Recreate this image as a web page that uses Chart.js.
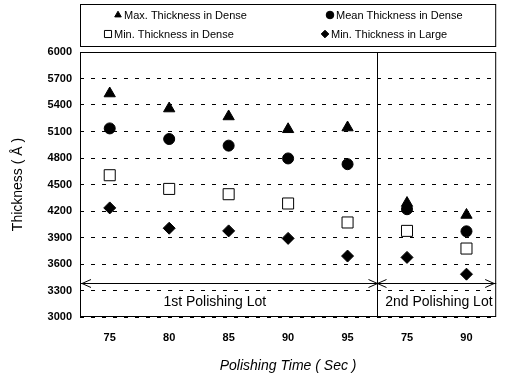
<!DOCTYPE html>
<html>
<head>
<meta charset="utf-8">
<script src="https://cdn.jsdelivr.net/npm/chart.js@4"></script>
<style>
html, body { margin: 0; padding: 0; background: #fff; }
</style>
</head>
<body>
<canvas id="grafico" width="505" height="379"></canvas>
<script>
const tiempos = ['75', '80', '85', '90', '95', '75', '90']
const maxDense = [5530, 5360, 5270, 5125, 5145, 4290, 4155]
const meanDense = [5135, 5015, 4940, 4795, 4730, 4220, 3970]
const minDense = [4605, 4450, 4390, 4285, 4070, 3975, 3775]
const minLarge = [4235, 4005, 3975, 3890, 3690, 3675, 3485]
const lotes = ['1st Polishing Lot', '2nd Polishing Lot']
const inicioLote2 = 5     // index of the first point of the 2nd lot
const nivelFlecha = 3385  // height of the lot arrows

const fuente = "'Liberation Sans', Arial, sans-serif"

// legend box, arrows, lot labels and the frame
const extras = {
	id: 'extras',
	afterDraw(chart) {
		const { ctx, chartArea: { left, right, top, bottom }, scales: { x, y } } = chart
		ctx.save()
		ctx.strokeStyle = '#000'
		ctx.fillStyle = '#000'
		ctx.lineWidth = 1

		ctx.strokeRect(left + 0.5, top + 0.5, right - left - 1, bottom - top - 1)

		const sep = Math.round((x.getPixelForValue(inicioLote2 - 1) + x.getPixelForValue(inicioLote2)) / 2) + 0.5
		const yf = Math.round(y.getPixelForValue(nivelFlecha)) + 0.5

		ctx.beginPath()
		ctx.moveTo(sep, top)
		ctx.lineTo(sep, bottom)
		ctx.moveTo(left, yf)
		ctx.lineTo(right, yf)
		const punta = (xp, dir) => {
			ctx.moveTo(xp + dir * 9, yf - 4)
			ctx.lineTo(xp, yf)
			ctx.lineTo(xp + dir * 9, yf + 4)
		}
		punta(left + 2, 1)
		punta(sep, -1)
		punta(sep, 1)
		punta(right - 2, -1)
		ctx.stroke()

		ctx.font = '14px ' + fuente
		ctx.textAlign = 'center'
		ctx.textBaseline = 'middle'
		const yTexto = (yf + bottom) / 2 + 2
		ctx.fillText(lotes[0], (left + sep) / 2 - 14, yTexto)
		ctx.fillText(lotes[1], (sep + right) / 2 + 2, yTexto)

		// legend
		ctx.strokeRect(left + 0.5, 4.5, right - left - 1, 42)
		ctx.font = '11px ' + fuente
		ctx.textAlign = 'left'
		const sitios = [[118, 15], [330, 15], [108, 34], [325, 34]]
		chart.data.datasets.forEach((ds, i) => {
			const [px, py] = sitios[i]
			ctx.fillStyle = ds.pointBackgroundColor
			ctx.strokeStyle = '#000'
			Chart.helpers.drawPoint(ctx, {
				pointStyle: ds.pointStyle,
				radius: ds.pointStyle === 'rect' ? 5 : 3.8,
				borderWidth: 1,
				rotation: 0
			}, px, py)
			ctx.fillStyle = '#000'
			ctx.fillText(ds.label, px + 6, py + 1)
		})
		ctx.restore()
	}
}

const serie = (label, data, pointStyle, radius, relleno) => ({
	label,
	data,
	showLine: false,
	pointStyle,
	pointRadius: radius,
	pointHoverRadius: radius,
	pointBackgroundColor: relleno,
	pointBorderColor: '#000',
	pointBorderWidth: 1
})

new Chart(document.getElementById('grafico'), {
	type: 'line',
	data: {
		labels: tiempos,
		datasets: [
			serie('Max. Thickness in Dense', maxDense, 'triangle', 6.5, '#000'),
			serie('Mean Thickness in Dense', meanDense, 'circle', 5.5, '#000'),
			serie('Min. Thickness in Dense', minDense, 'rect', 7.8, '#fff'),
			serie('Min. Thickness in Large', minLarge, 'rectRot', 6, '#000')
		]
	},
	options: {
		responsive: false,
		animation: false,
		devicePixelRatio: 1,
		layout: { padding: { left: 0, right: 3, top: 52, bottom: 0 } },
		plugins: {
			legend: { display: false },
			tooltip: { enabled: false }
		},
		scales: {
			x: {
				offset: true,
				grid: { display: false },
				border: { display: false },
				ticks: { color: '#000', padding: 6, font: { family: fuente, size: 11, weight: 'bold' } },
				title: {
					display: true,
					text: 'Polishing Time ( Sec )',
					color: '#000',
					padding: { top: 0, bottom: 4 },
					font: { family: fuente, size: 14, style: 'italic' }
				},
				afterFit: (s) => { s.height = 62 }
			},
			y: {
				min: 3000,
				max: 6000,
				grid: { color: '#000', lineWidth: 1, drawTicks: false },
				border: { display: false, dash: [4, 7] },
				ticks: {
					stepSize: 300,
					color: '#000',
					padding: 8,
					font: { family: fuente, size: 11, weight: 'bold' },
					callback: (v) => String(v)
				},
				title: {
					display: true,
					text: 'Thickness ( Å )',
					color: '#000',
					padding: { top: 10, bottom: 0 },
					font: { family: fuente, size: 14 }
				},
				afterFit: (s) => { s.width = 80 }
			}
		}
	},
	plugins: [extras]
})
</script>
</body>
</html>
